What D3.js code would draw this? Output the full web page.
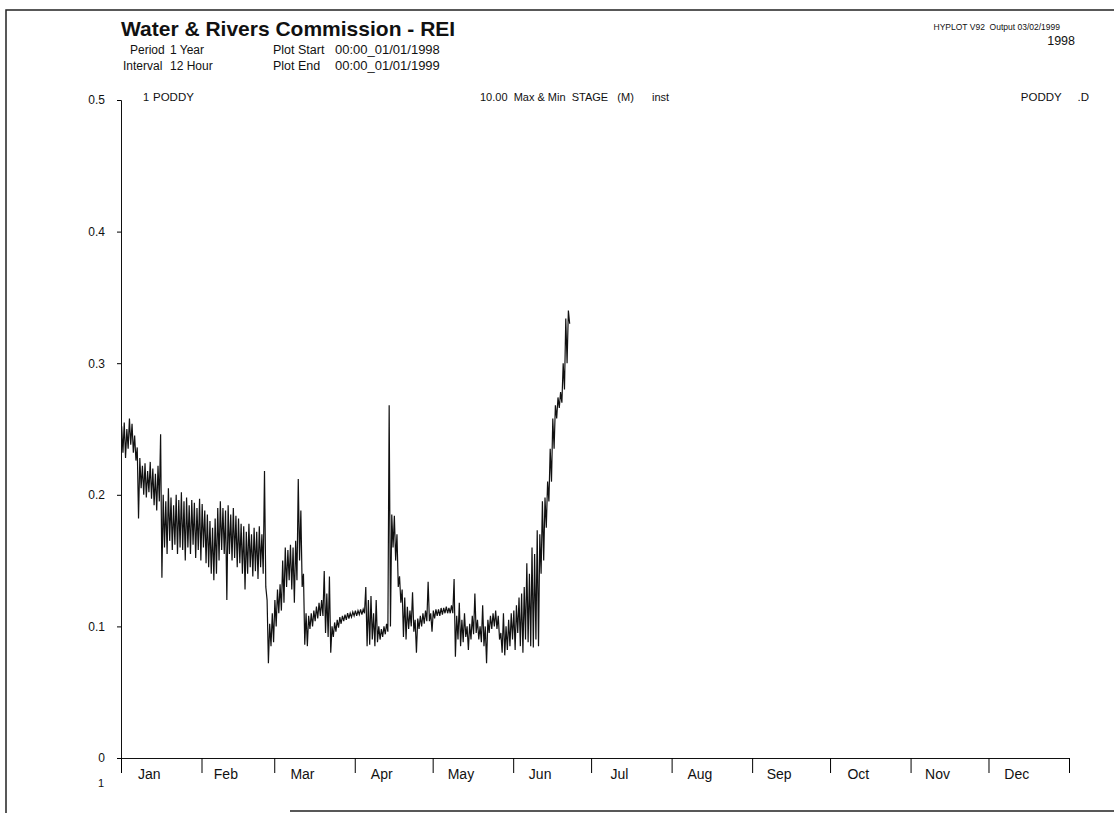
<!DOCTYPE html>
<html>
<head>
<meta charset="utf-8">
<script src="https://cdn.jsdelivr.net/npm/d3@7"></script>
<style>
  body { margin: 0; background: #fff; }
  svg text { font-family: 'Liberation Sans', Arial, sans-serif; fill: #111; white-space: pre; }
</style>
</head>
<body>
<svg id="chart" width="1114" height="813"></svg>
<script>
// month labels along the time axis
const months = ['Jan', 'Feb', 'Mar', 'Apr', 'May', 'Jun', 'Jul', 'Aug', 'Sep', 'Oct', 'Nov', 'Dec']
const yTicks = [0, 0.1, 0.2, 0.3, 0.4, 0.5]

// daily max & min stage (m), PODDY, from 1 Jan 1998
const dayMax = [
  0.252, 0.255, 0.250, 0.258, 0.254, 0.245, 0.236, 0.228, 0.222, 0.224,
  0.218, 0.225, 0.220, 0.216, 0.222, 0.246, 0.200, 0.195, 0.205, 0.198,
  0.192, 0.200, 0.196, 0.202, 0.195, 0.198, 0.192, 0.196, 0.194, 0.190,
  0.197, 0.193, 0.188, 0.185, 0.180, 0.175, 0.182, 0.190, 0.195, 0.190,
  0.188, 0.192, 0.185, 0.190, 0.184, 0.182, 0.178, 0.176, 0.172, 0.178,
  0.170, 0.175, 0.172, 0.176, 0.170, 0.218, 0.120, 0.102, 0.110, 0.120,
  0.128, 0.132, 0.150, 0.160, 0.158, 0.162, 0.160, 0.165, 0.212, 0.188,
  0.140, 0.110, 0.108, 0.110, 0.112, 0.115, 0.118, 0.120, 0.142, 0.125,
  0.138, 0.100, 0.103, 0.105, 0.107, 0.108, 0.109, 0.110, 0.110, 0.111,
  0.112, 0.112, 0.113, 0.113, 0.130, 0.120, 0.123, 0.110, 0.120, 0.100,
  0.098, 0.100, 0.102, 0.268, 0.185, 0.184, 0.170, 0.138, 0.128, 0.122,
  0.115, 0.112, 0.126, 0.105, 0.106, 0.108, 0.110, 0.112, 0.134, 0.110,
  0.112, 0.113, 0.113, 0.114, 0.114, 0.115, 0.114, 0.116, 0.136, 0.108,
  0.118, 0.105, 0.110, 0.100, 0.102, 0.108, 0.125, 0.105, 0.100, 0.116,
  0.100, 0.105, 0.108, 0.110, 0.112, 0.108, 0.095, 0.110, 0.100, 0.105,
  0.110, 0.112, 0.116, 0.122, 0.125, 0.130, 0.148, 0.140, 0.160, 0.155,
  0.173, 0.170, 0.195, 0.198, 0.210, 0.235, 0.258, 0.268, 0.274, 0.278,
  0.300, 0.334, 0.340
]
const dayMin = [
  0.232, 0.228, 0.235, 0.238, 0.232, 0.226, 0.182, 0.205, 0.200, 0.198,
  0.202, 0.197, 0.192, 0.188, 0.195, 0.137, 0.160, 0.155, 0.165, 0.158,
  0.162, 0.155, 0.160, 0.158, 0.150, 0.160, 0.155, 0.162, 0.152, 0.158,
  0.150, 0.160, 0.148, 0.145, 0.140, 0.135, 0.140, 0.150, 0.158, 0.155,
  0.120, 0.155, 0.150, 0.152, 0.145, 0.148, 0.140, 0.128, 0.140, 0.145,
  0.138, 0.142, 0.136, 0.145, 0.140, 0.130, 0.072, 0.085, 0.088, 0.100,
  0.110, 0.112, 0.118, 0.130, 0.135, 0.128, 0.118, 0.135, 0.150, 0.130,
  0.086, 0.085, 0.098, 0.100, 0.104, 0.106, 0.108, 0.108, 0.095, 0.092,
  0.080, 0.092, 0.096, 0.099, 0.102, 0.104, 0.105, 0.106, 0.107, 0.108,
  0.108, 0.109, 0.109, 0.110, 0.085, 0.086, 0.090, 0.085, 0.088, 0.090,
  0.092, 0.094, 0.096, 0.100, 0.160, 0.150, 0.130, 0.118, 0.092, 0.090,
  0.098, 0.100, 0.096, 0.080, 0.098, 0.100, 0.102, 0.104, 0.104, 0.096,
  0.106, 0.108, 0.108, 0.109, 0.110, 0.110, 0.110, 0.110, 0.077, 0.090,
  0.085, 0.088, 0.092, 0.082, 0.090, 0.094, 0.095, 0.090, 0.088, 0.085,
  0.072, 0.095, 0.098, 0.100, 0.098, 0.090, 0.080, 0.078, 0.082, 0.085,
  0.090, 0.082, 0.095, 0.085, 0.080, 0.090, 0.088, 0.085, 0.084, 0.090,
  0.085, 0.140, 0.150, 0.175, 0.195, 0.210, 0.235, 0.258, 0.266, 0.270,
  0.280, 0.300, 0.330
]

const svg = d3.select('#chart')
const start = new Date(1998, 0, 1)
const end = new Date(1999, 0, 1)

const x = d3.scaleTime().domain([start, end]).range([121, 1069])
const y = d3.scaleLinear().domain([0, 0.5]).range([758, 100])

// page frame from the scan
svg.append('path')
  .attr('d', 'M6,813 V10 H1114 M290,811 H1114')
  .attr('fill', 'none')
  .attr('stroke', '#222')
  .attr('stroke-width', 1.5)

// header
const txt = (s, tx, ty, size, opts = {}) => svg.append('text')
  .attr('x', tx).attr('y', ty)
  .attr('font-size', size)
  .attr('font-weight', opts.bold ? 'bold' : null)
  .attr('text-anchor', opts.anchor || 'start')
  .text(s)

txt('Water & Rivers Commission - REI', 121, 36, 21, { bold: true })
txt('Period', 130, 54, 12)
txt('1 Year', 170, 54, 12)
txt('Plot Start', 273, 54, 12.5)
txt('00:00_01/01/1998', 335, 54, 13)
txt('Interval', 123, 70, 12)
txt('12 Hour', 170, 70, 12)
txt('Plot End', 273, 70, 12.5)
txt('00:00_01/01/1999', 335, 70, 13)
txt('HYPLOT V92  Output 03/02/1999', 1060, 30, 8.5, { anchor: 'end' })
txt('1998', 1075, 45, 12.5, { anchor: 'end' })
txt('1', 143, 101, 11)
txt('PODDY', 153, 101, 11.5)
txt('10.00  Max & Min  STAGE   (M)', 480, 101, 11)
txt('inst', 652, 101, 11)
txt('PODDY     .D', 1089, 101, 11.5, { anchor: 'end' })
txt('1', 104, 787, 11, { anchor: 'end' })

// axes
const yAxis = d3.axisLeft(y)
  .tickValues(yTicks)
  .tickSize(4)
  .tickPadding(12)
  .tickFormat(d => d === 0 ? '0' : d3.format('.1f')(d))

const gy = svg.append('g')
  .attr('transform', 'translate(121,0)')
  .call(yAxis)
gy.selectAll('text').attr('font-size', 12).attr('font-family', null)
gy.select('.domain').attr('stroke', '#111')

const xAxis = d3.axisBottom(x)
  .ticks(d3.timeMonth.every(1))
  .tickSize(15)
  .tickSizeOuter(0)
  .tickFormat('')

const gx = svg.append('g')
  .attr('transform', 'translate(0,758)')
  .call(xAxis)
gx.select('.domain').attr('stroke', '#111')

svg.append('g')
  .selectAll('text')
  .data(months)
  .join('text')
  .attr('x', (m, i) => (x(new Date(1998, i, 1)) + x(new Date(1998, i + 1, 1))) / 2 - 12)
  .attr('y', 779)
  .attr('text-anchor', 'middle')
  .attr('font-size', 14)
  .text(m => m)

// max & min trace, two readings a day
const pts = []
dayMax.forEach((v, i) => {
  pts.push([d3.timeHour.offset(start, i * 24 + 6), v])
  pts.push([d3.timeHour.offset(start, i * 24 + 18), dayMin[i]])
})

const line = d3.line()
  .x(d => x(d[0]))
  .y(d => y(d[1]))

svg.append('path')
  .datum(pts)
  .attr('d', line)
  .attr('fill', 'none')
  .attr('stroke', '#111')
  .attr('stroke-width', 1.2)
</script>
</body>
</html>
